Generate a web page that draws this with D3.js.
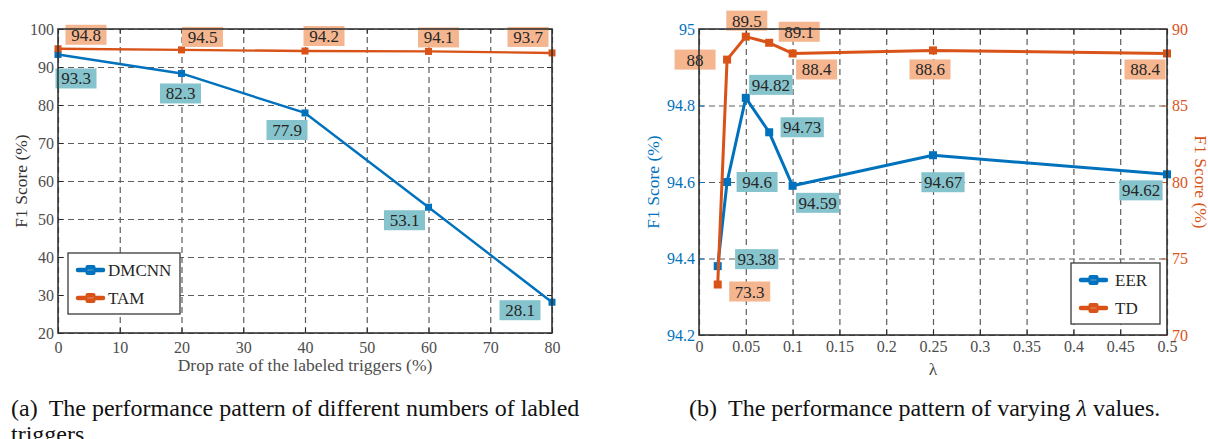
<!DOCTYPE html>
<html>
<head>
<meta charset="utf-8">
<script src="https://cdn.jsdelivr.net/npm/d3@7"></script>
<style>
  body { margin: 0; background: #fff; }
</style>
</head>
<body>
<div id="chart"></div>
<script>
// ---- data (a): drop rate of labeled triggers ----
let dropRates = [0, 20, 40, 60, 80];
let dmcnnF1 = [93.3, 88.3, 77.9, 53.1, 28.1];
let dmcnnLabels = ["93.3", "82.3", "77.9", "53.1", "28.1"];
let tamF1 = [94.8, 94.5, 94.2, 94.1, 93.7];
let tamLabels = ["94.8", "94.5", "94.2", "94.1", "93.7"];
let dropTicks = [0, 10, 20, 30, 40, 50, 60, 70, 80];
let f1Ticks = [20, 30, 40, 50, 60, 70, 80, 90, 100];

// ---- data (b): lambda values ----
let lambdas = [0.02, 0.03, 0.05, 0.075, 0.1, 0.25, 0.5];
let eerF1 = [94.38, 94.6, 94.82, 94.73, 94.59, 94.67, 94.62];
let eerLabels = ["93.38", "94.6", "94.82", "94.73", "94.59", "94.67", "94.62"];
let tdF1 = [73.3, 88, 89.5, 89.1, 88.4, 88.6, 88.4];
let tdLabels = ["73.3", "88", "89.5", "89.1", "88.4", "88.6", "88.4"];
let lambdaTicks = [0, 0.05, 0.1, 0.15, 0.2, 0.25, 0.3, 0.35, 0.4, 0.45, 0.5];
let eerTicks = [94.2, 94.4, 94.6, 94.8, 95];
let tdTicks = [70, 75, 80, 85, 90];

// label box offsets from their point (px)
let dmcnnOffsets = [[18, 24], [-1, 20], [-18, 17], [-24, 13], [-32, 8]];
let tamOffsets = [[28, -14], [21, -13], [19, -15], [10, -14], [-24, -16]];
let eerOffsets = [[39, -7], [30, 0], [25, -13], [33, -5], [25, 17], [10, 27], [-26, 16]];
let tdOffsets = [[32, 7], [-32, 0], [1, -16], [30, -11], [24, 16], [-3, 19], [-22, 16]];

let serif = '"Liberation Serif", "Times New Roman", Times, "DejaVu Serif", serif';
let blue = "#0072BD";
let orange = "#D95319";
let blueBox = "#86C4CD";
let orangeBox = "#F4B58F";
let tickGray = "#4d4d4d";

let svg = d3.select("#chart")
  .append("svg")
  .attr("width", 1208)
  .attr("height", 439)
  .attr("font-family", serif);

// draws grid, x ticks and top ticks for one panel
function drawFrame(g, x, y, w, h, xTicks, yTicks, xFmt, xPad) {
  g.append("g")
    .attr("transform", `translate(0, ${h})`)
    .call(d3.axisBottom(x).tickValues(xTicks).tickSize(-h).tickFormat(""))
    .call(a => a.select(".domain").remove())
    .selectAll("line")
    .attr("stroke", "#5e5e5e")
    .attr("stroke-width", 1.2)
    .attr("stroke-dasharray", "6,4");

  g.append("g")
    .call(d3.axisLeft(y).tickValues(yTicks).tickSize(-w).tickFormat(""))
    .call(a => a.select(".domain").remove())
    .selectAll("line")
    .attr("stroke", "#5e5e5e")
    .attr("stroke-width", 1.2)
    .attr("stroke-dasharray", "6,4");

  let xAxis = g.append("g")
    .attr("transform", `translate(0, ${h})`)
    .call(d3.axisBottom(x).tickValues(xTicks).tickSizeInner(-5).tickSizeOuter(0)
      .tickPadding(xPad).tickFormat(xFmt));
  xAxis.select(".domain").remove();
  xAxis.selectAll("line").attr("stroke", "#262626");
  xAxis.selectAll("text")
    .attr("fill", tickGray)
    .style("font-size", "16px");

  g.append("g")
    .call(d3.axisTop(x).tickValues(xTicks).tickSizeInner(-5).tickSizeOuter(0).tickFormat(""))
    .call(a => a.select(".domain").remove())
    .selectAll("line").attr("stroke", "#262626");
}

function drawSeries(g, x, y, xs, ys, color, lw, ms) {
  let line = d3.line()
    .x((d, i) => x(xs[i]))
    .y(d => y(d));

  g.append("path")
    .datum(ys)
    .attr("d", line)
    .attr("fill", "none")
    .attr("stroke", color)
    .attr("stroke-width", lw)
    .attr("stroke-linejoin", "round");

  g.selectAll(null)
    .data(ys)
    .enter()
    .append("rect")
    .attr("x", (d, i) => x(xs[i]) - ms / 2)
    .attr("y", d => y(d) - ms / 2)
    .attr("width", ms)
    .attr("height", ms)
    .attr("fill", color);
}

function drawLabels(g, x, y, xs, ys, texts, offsets, fill) {
  texts.forEach((t, i) => {
    let cx = x(xs[i]) + offsets[i][0];
    let cy = y(ys[i]) + offsets[i][1];
    let box = g.append("rect");
    let txt = g.append("text")
      .attr("x", cx)
      .attr("y", cy + 6)
      .attr("text-anchor", "middle")
      .attr("fill", "#262626")
      .style("font-family", serif)
      .style("font-size", "17px")
      .text(t);
    let bw = Math.max(41, txt.node().getComputedTextLength() + 5);
    box.attr("x", cx - bw / 2)
      .attr("y", cy - 10)
      .attr("width", bw)
      .attr("height", 20)
      .attr("fill", fill);
  });
}

function drawLegend(g, bx, by, bw, bh, items) {
  g.append("rect")
    .attr("x", bx).attr("y", by)
    .attr("width", bw).attr("height", bh)
    .attr("fill", "#fff")
    .attr("stroke", "#3a3a3a")
    .attr("stroke-width", 1.3);
  items.forEach((it, i) => {
    let ry = by + 17 + i * 28;
    g.append("line")
      .attr("x1", bx + 10).attr("x2", bx + 35)
      .attr("y1", ry).attr("y2", ry)
      .attr("stroke", it.color)
      .attr("stroke-width", 4.5)
      .attr("stroke-linecap", "round");
    g.append("rect")
      .attr("x", bx + 17.5).attr("y", ry - 5)
      .attr("width", 10).attr("height", 10)
      .attr("rx", 2)
      .attr("fill", it.color);
    g.append("line")
      .attr("x1", bx + 19.5).attr("x2", bx + 25.5)
      .attr("y1", ry).attr("y2", ry)
      .attr("stroke", "#ffffff")
      .attr("stroke-opacity", 0.35)
      .attr("stroke-width", 1);
    g.append("text")
      .attr("x", bx + it.textDx)
      .attr("y", ry + 6)
      .attr("fill", "#262626")
      .style("font-size", "17px")
      .text(it.name);
  });
}

// ================= panel (a) =================
let aLeft = 58, aTop = 29, aW = 494, aH = 304;
let gA = svg.append("g").attr("transform", `translate(${aLeft}, ${aTop})`);

let xA = d3.scaleLinear().domain([0, 80]).range([0, aW]);
let yA = d3.scaleLinear().domain([20, 100]).range([aH, 0]);

drawFrame(gA, xA, yA, aW, aH, dropTicks, f1Ticks, d => d, 9);

let yAxisA = gA.append("g")
  .call(d3.axisLeft(yA).tickValues(f1Ticks).tickSizeInner(-5).tickSizeOuter(0).tickPadding(4));
yAxisA.select(".domain").remove();
yAxisA.selectAll("line").attr("stroke", "#262626");
yAxisA.selectAll("text").attr("fill", tickGray).style("font-size", "16px");

gA.append("g")
  .attr("transform", `translate(${aW}, 0)`)
  .call(d3.axisRight(yA).tickValues(f1Ticks).tickSizeInner(-5).tickSizeOuter(0).tickFormat(""))
  .call(a => a.select(".domain").remove())
  .selectAll("line").attr("stroke", "#262626");

drawSeries(gA, xA, yA, dropRates, dmcnnF1, blue, 2.4, 7);
drawSeries(gA, xA, yA, dropRates, tamF1, orange, 2.4, 7);
drawLabels(gA, xA, yA, dropRates, dmcnnF1, dmcnnLabels, dmcnnOffsets, blueBox);
drawLabels(gA, xA, yA, dropRates, tamF1, tamLabels, tamOffsets, orangeBox);

gA.append("rect")
  .attr("width", aW).attr("height", aH)
  .attr("fill", "none")
  .attr("stroke", "#333")
  .attr("stroke-width", 1.6);

drawLegend(gA, 68 - aLeft, 253 - aTop, 112, 61, [
  { name: "DMCNN", color: blue, textDx: 40 },
  { name: "TAM", color: orange, textDx: 40 }
]);

svg.append("text")
  .attr("x", aLeft + aW / 2)
  .attr("y", 371)
  .attr("text-anchor", "middle")
  .attr("fill", tickGray)
  .style("font-size", "17.5px")
  .text("Drop rate of the labeled triggers (%)");

svg.append("text")
  .attr("transform", `translate(27, ${aTop + aH / 2}) rotate(-90)`)
  .attr("text-anchor", "middle")
  .attr("fill", "#333")
  .style("font-size", "17.5px")
  .text("F1 Score (%)");

// ================= panel (b) =================
let bLeft = 699, bTop = 29, bW = 468, bH = 306;
let gB = svg.append("g").attr("transform", `translate(${bLeft}, ${bTop})`);

let xB = d3.scaleLinear().domain([0, 0.5]).range([0, bW]);
let yB = d3.scaleLinear().domain([94.2, 95]).range([bH, 0]);
let yB2 = d3.scaleLinear().domain([70, 90]).range([bH, 0]);

drawFrame(gB, xB, yB, bW, bH, lambdaTicks, eerTicks, d => +d.toFixed(2), 6);

let yAxisB = gB.append("g")
  .call(d3.axisLeft(yB).tickValues(eerTicks).tickSizeInner(-5).tickSizeOuter(0)
    .tickPadding(4).tickFormat(d => +d.toFixed(1)));
yAxisB.select(".domain").remove();
yAxisB.selectAll("line").attr("stroke", blue);
yAxisB.selectAll("text").attr("fill", blue).style("font-size", "16px");

let yAxisB2 = gB.append("g")
  .attr("transform", `translate(${bW}, 0)`)
  .call(d3.axisRight(yB2).tickValues(tdTicks).tickSizeInner(-5).tickSizeOuter(0).tickPadding(5));
yAxisB2.select(".domain").remove();
yAxisB2.selectAll("line").attr("stroke", orange);
yAxisB2.selectAll("text").attr("fill", orange).style("font-size", "16px");

drawSeries(gB, xB, yB, lambdas, eerF1, blue, 3, 8);
drawSeries(gB, xB, yB2, lambdas, tdF1, orange, 3, 8);
drawLabels(gB, xB, yB, lambdas, eerF1, eerLabels, eerOffsets, blueBox);
drawLabels(gB, xB, yB2, lambdas, tdF1, tdLabels, tdOffsets, orangeBox);

gB.append("rect")
  .attr("width", bW).attr("height", bH)
  .attr("fill", "none")
  .attr("stroke", "#333")
  .attr("stroke-width", 1.6);

drawLegend(gB, 1071 - bLeft, 263 - bTop, 89, 61, [
  { name: "EER", color: blue, textDx: 44 },
  { name: "TD", color: orange, textDx: 44 }
]);

svg.append("text")
  .attr("x", bLeft + bW / 2)
  .attr("y", 375)
  .attr("text-anchor", "middle")
  .attr("fill", tickGray)
  .style("font-size", "17.5px")
  .text("λ");

svg.append("text")
  .attr("transform", `translate(659, ${bTop + bH / 2}) rotate(-90)`)
  .attr("text-anchor", "middle")
  .attr("fill", blue)
  .style("font-size", "17.5px")
  .text("F1 Score (%)");

svg.append("text")
  .attr("transform", `translate(1195, ${bTop + bH / 2}) rotate(90)`)
  .attr("text-anchor", "middle")
  .attr("fill", orange)
  .style("font-size", "17.5px")
  .text("F1 Score (%)");

// ================= captions =================
let capA = svg.append("text")
  .attr("x", 11)
  .attr("y", 416)
  .attr("fill", "#111")
  .style("font-size", "24px");
capA.append("tspan").text("(a)");
capA.append("tspan").attr("dx", 11).text("The performance pattern of different numbers of labled");
svg.append("text")
  .attr("x", 11)
  .attr("y", 442)
  .attr("fill", "#111")
  .style("font-size", "24px")
  .text("triggers.");

let capB = svg.append("text")
  .attr("x", 689)
  .attr("y", 416)
  .attr("fill", "#111")
  .style("font-size", "24px");
capB.append("tspan").text("(b)");
capB.append("tspan").attr("dx", 11).text("The performance pattern of varying ");
capB.append("tspan").style("font-style", "italic").text("λ");
capB.append("tspan").text(" values.");

// d3 axes set a sans-serif font on their groups, so force the serif face everywhere
svg.selectAll("g").attr("font-family", null);
svg.selectAll("text").style("font-family", serif);
</script>
</body>
</html>
